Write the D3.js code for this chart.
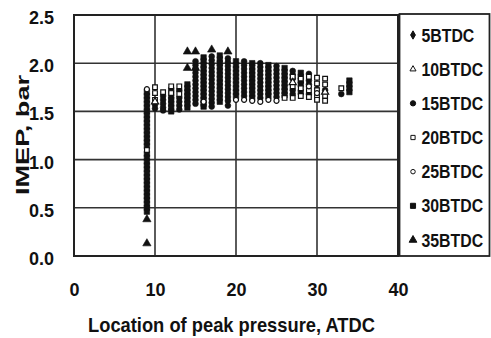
<!DOCTYPE html>
<html><head><meta charset="utf-8">
<script src="https://cdn.jsdelivr.net/npm/d3@7"></script>
<style>
html,body{margin:0;padding:0;background:#fff;}
svg{display:block;}
text{font-family:"Liberation Sans",Arial,Helvetica,sans-serif;font-weight:bold;fill:#111;}
</style></head>
<body>
<svg id="c" width="491" height="338"></svg>
<script>
// ---- data ----
const xTicks = [0, 10, 20, 30, 40];
const yTicks = [0, 0.5, 1.0, 1.5, 2.0, 2.5];
const yTickLabels = ["0.0", "0.5", "1.0", "1.5", "2.0", "2.5"];
const seriesNames = ["5BTDC", "10BTDC", "15BTDC", "20BTDC", "25BTDC", "30BTDC", "35BTDC"];
const xTitle = "Location of peak pressure, ATDC";
const yTitle = "IMEP, bar";

// 5BTDC – filled diamond
const s5 = [[9,1.68],[9,1.40],[9,1.20],[9,0.80],[9,0.60],[12,1.62],[14,1.66],[28,1.80],[30,1.74]];
// 10BTDC – open triangle
const s10 = [[10,1.60],[27,1.80],[31,1.70]];
// 15BTDC – filled circle
const s15 = [
 [10,1.57],[10,1.53],
 [11,1.66],[11,1.62],[11,1.58],[11,1.54],[11,1.51],
 [13,1.72],[13,1.64],[13,1.60],[13,1.56],[13,1.52],
 [15,2.02],[15,1.98],[15,1.94],[15,1.90],[15,1.86],[15,1.82],[15,1.78],[15,1.74],[15,1.70],[15,1.66],[15,1.62],[15,1.58],
 [17,2.07],[17,2.03],[17,1.99],[17,1.95],[17,1.91],[17,1.87],[17,1.83],[17,1.79],[17,1.75],[17,1.71],[17,1.67],[17,1.63],[17,1.59],[17,1.55],
 [19,2.05],[19,2.01],[19,1.97],[19,1.93],[19,1.89],[19,1.85],[19,1.81],[19,1.77],[19,1.73],[19,1.69],[19,1.65],[19,1.61],[19,1.56],
 [21,2.02],[21,1.98],[21,1.94],[21,1.90],[21,1.86],[21,1.82],[21,1.78],[21,1.74],[21,1.70],[21,1.66],
 [23,2.00],[23,1.96],[23,1.92],[23,1.88],[23,1.84],[23,1.80],[23,1.76],[23,1.72],[23,1.68],[23,1.64],
 [25,1.97],[25,1.93],[25,1.89],[25,1.85],[25,1.81],[25,1.77],[25,1.73],[25,1.69],[25,1.65],
 [27,1.92],[27,1.88],[27,1.84],[27,1.72],[27,1.68],
 [29,1.89],[29,1.82],[29,1.78],[29,1.68],
 [31,1.72],[33,1.68]
];
// 20BTDC – open square
const s20 = [
 [9,1.10],[10,1.75],[10,1.69],[10,1.62],[11,1.70],[12,1.76],[12,1.69],[13,1.76],[13,1.68],
 [26,1.64],[27,1.86],[27,1.76],[27,1.64],[28,1.84],[28,1.74],[28,1.66],[29,1.86],[29,1.72],[29,1.65],
 [30,1.85],[30,1.79],[30,1.72],[30,1.66],[30,1.62],[31,1.84],[31,1.78],[31,1.66],[31,1.61],[33,1.74]
];
// 25BTDC – open circle
const s25 = [[9,1.73],[16,1.60],[20,1.62],[21,1.62],[22,1.61],[23,1.60],[24,1.62],[25,1.61],[29,1.76],[30,1.69]];
// 30BTDC – filled square
const s30 = [
 [9,1.70],[9,1.66],[9,1.62],[9,1.58],[9,1.54],[9,1.50],[9,1.46],[9,1.42],[9,1.38],[9,1.34],[9,1.30],[9,1.26],[9,1.22],[9,1.18],[9,1.14],
 [9,1.06],[9,1.02],[9,0.98],[9,0.94],[9,0.90],[9,0.86],[9,0.82],[9,0.78],[9,0.74],[9,0.70],[9,0.66],[9,0.62],[9,0.58],[9,0.54],[9,0.50],[9,0.46],
 [12,1.72],[12,1.66],[12,1.62],[12,1.58],[12,1.54],[12,1.50],
 [14,1.78],[14,1.74],[14,1.70],[14,1.66],[14,1.62],[14,1.58],[14,1.54],
 [16,2.06],[16,2.02],[16,1.98],[16,1.94],[16,1.90],[16,1.86],[16,1.82],[16,1.78],[16,1.74],[16,1.70],[16,1.66],[16,1.62],[16,1.58],[16,1.55],
 [18,2.08],[18,2.04],[18,2.00],[18,1.96],[18,1.92],[18,1.88],[18,1.84],[18,1.80],[18,1.76],[18,1.72],[18,1.68],[18,1.64],[18,1.60],
 [20,2.02],[20,1.98],[20,1.94],[20,1.90],[20,1.86],[20,1.82],[20,1.78],[20,1.74],[20,1.70],[20,1.66],
 [22,2.00],[22,1.96],[22,1.92],[22,1.88],[22,1.84],[22,1.80],[22,1.76],[22,1.72],[22,1.68],[22,1.64],
 [24,1.98],[24,1.94],[24,1.90],[24,1.86],[24,1.82],[24,1.78],[24,1.74],[24,1.70],[24,1.66],
 [26,1.95],[26,1.91],[26,1.87],[26,1.83],[26,1.79],[26,1.75],[26,1.71],[26,1.67],
 [28,1.90],[28,1.86],[28,1.82],[28,1.78],[28,1.70],
 [34,1.82],[34,1.78],[34,1.74],[34,1.70]
];
// 35BTDC – filled triangle
const s35 = [[9,0.38],[9,0.13],[14,2.12],[14,1.95],[15,2.12],[15,1.95],[17,2.14],[19,2.12]];

// ---- drawing ----
const svg = d3.select("#c");
const x = d3.scaleLinear().domain([0, 40]).range([74, 398]);
const y = d3.scaleLinear().domain([0, 2.5]).range([256, 15]);

// grid
const g = svg.append("g");
g.selectAll("line.gx").data(xTicks.slice(1, -1)).join("line")
  .attr("x1", d => x(d)).attr("x2", d => x(d)).attr("y1", y(0)).attr("y2", y(2.5))
  .attr("stroke", "#333").attr("stroke-width", 1.6);
g.selectAll("line.gy").data(yTicks.slice(1, -1)).join("line")
  .attr("y1", d => y(d)).attr("y2", d => y(d)).attr("x1", x(0)).attr("x2", x(40))
  .attr("stroke", "#333").attr("stroke-width", 1.6);
svg.append("rect").attr("x", x(0)).attr("y", y(2.5)).attr("width", x(40) - x(0)).attr("height", y(0) - y(2.5))
  .attr("fill", "none").attr("stroke", "#222").attr("stroke-width", 2);

// axes (labels only)
const ax = svg.append("g").attr("transform", `translate(0,${y(0)})`)
  .call(d3.axisBottom(x).tickValues(xTicks).tickFormat(d3.format("d")).tickSize(0).tickPadding(27));
ax.select(".domain").remove();
ax.selectAll("text").attr("font-size", 18).attr("font-family", null).attr("fill", "#111");
const ay = svg.append("g").attr("transform", `translate(${x(0)},0)`)
  .call(d3.axisLeft(y).tickValues(yTicks).tickFormat((d, i) => yTickLabels[i]).tickSize(0).tickPadding(20));
ay.select(".domain").remove();
ay.selectAll("text").attr("font-size", 18).attr("font-family", null).attr("fill", "#111").attr("dy", "0.47em");
svg.selectAll(".tick text").attr("font-family", null);

// markers
const sym = {
  diamond: d3.symbol().type(d3.symbolDiamond).size(22),
  tri: d3.symbol().type(d3.symbolTriangle).size(30),
  circle: d3.symbol().type(d3.symbolCircle).size(26),
  square: d3.symbol().type(d3.symbolSquare).size(30),
  osquare: d3.symbol().type(d3.symbolSquare).size(22),
  ocircle: d3.symbol().type(d3.symbolCircle).size(20),
  otri: d3.symbol().type(d3.symbolTriangle).size(22)
};
function plot(data, path, filled) {
  svg.append("g").selectAll("path").data(data).join("path")
    .attr("d", path)
    .attr("transform", d => `translate(${x(d[0])},${y(d[1])})`)
    .attr("fill", filled ? "#111" : "#fff")
    .attr("stroke", "#111").attr("stroke-width", filled ? 0.6 : 1.2);
}
plot(s30, sym.square(), true);
plot(s15, sym.circle(), true);
plot(s5, sym.diamond(), true);
plot(s35, sym.tri(), true);
plot(s20, sym.osquare(), false);
plot(s25, sym.ocircle(), false);
plot(s10, sym.otri(), false);

// legend
svg.append("rect").attr("x", 399.5).attr("y", 14).attr("width", 90).attr("height", 242)
  .attr("fill", "#fff").attr("stroke", "#222").attr("stroke-width", 1.8);
const legSyms = [
  [d3.symbol().type(d3.symbolDiamond).size(20)(), true],
  [d3.symbol().type(d3.symbolTriangle).size(16)(), false],
  [d3.symbol().type(d3.symbolCircle).size(22)(), true],
  [d3.symbol().type(d3.symbolSquare).size(18)(), false],
  [d3.symbol().type(d3.symbolCircle).size(16)(), false],
  [d3.symbol().type(d3.symbolSquare).size(26)(), true],
  [d3.symbol().type(d3.symbolTriangle).size(26)(), true]
];
const legY = d3.scalePoint().domain(seriesNames).range([35, 240]);
const lg = svg.append("g").selectAll("g").data(seriesNames).join("g")
  .attr("transform", d => `translate(0,${legY(d)})`);
lg.append("path").attr("d", (d, i) => legSyms[i][0]).attr("transform", "translate(413,0)")
  .attr("fill", (d, i) => legSyms[i][1] ? "#111" : "#fff").attr("stroke", "#111").attr("stroke-width", 1);
lg.append("text").attr("x", 421.5).attr("y", 6.5).attr("font-size", 18).text(d => d)
  .each(function () {
    const w = this.getComputedTextLength();
    d3.select(this).attr("textLength", w * 0.88).attr("lengthAdjust", "spacingAndGlyphs");
  });

// titles
svg.append("text").attr("x", 231.5).attr("y", 332).attr("text-anchor", "middle").attr("font-size", 21)
  .text(xTitle).each(function () {
    d3.select(this).attr("textLength", 287).attr("lengthAdjust", "spacingAndGlyphs");
  });
svg.append("text").attr("transform", "translate(29,135) rotate(-90)").attr("text-anchor", "middle")
  .attr("font-size", 18).text(yTitle).attr("textLength", 120).attr("lengthAdjust", "spacingAndGlyphs");
</script>
</body></html>
